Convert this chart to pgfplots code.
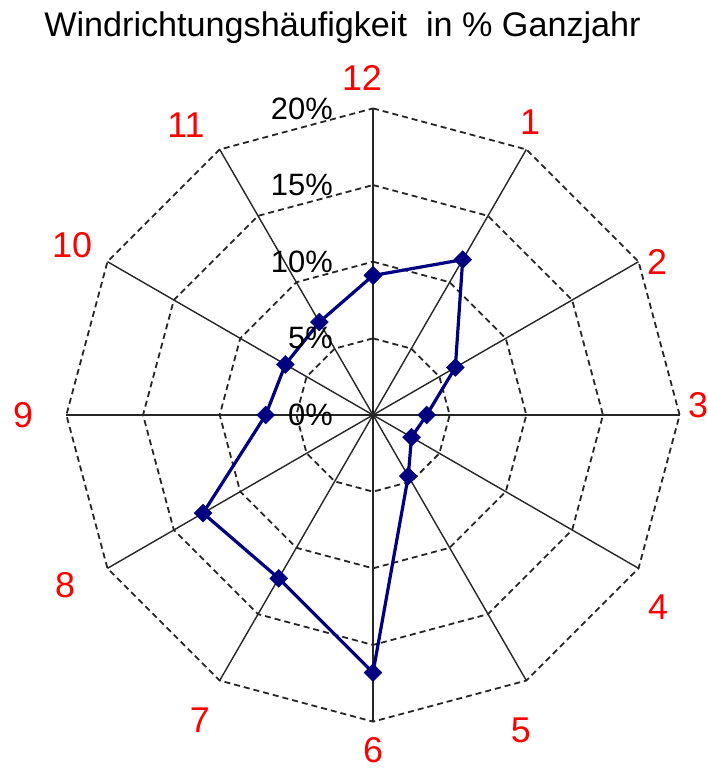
\documentclass[border=0pt]{standalone}
\usepackage{pgfplots}
\pgfplotsset{compat=1.18}
\usepackage{fontspec}
\setmainfont{Liberation Sans}
\definecolor{navyline}{RGB}{0,0,128}
\definecolor{redlab}{RGB}{255,0,0}
\begin{document}
\begin{tikzpicture}
\begin{axis}[
  x=15.33bp, y=15.33bp,
  xmin=-24.33, xmax=21.85, ymin=-23.22, ymax=27.07,
  hide axis, clip=false,
  ringstyle/.style={black!85, line width=1.8bp, dash pattern=on 6bp off 4bp, mark=none},
  spokestyle/.style={black!85, line width=1.4bp, mark=none},
]
% spokes (diameters)
\addplot[spokestyle, data cs=polar] coordinates {(90,20) (270,20)};
\addplot[spokestyle, data cs=polar] coordinates {(60,20) (240,20)};
\addplot[spokestyle, data cs=polar] coordinates {(30,20) (210,20)};
\addplot[spokestyle, data cs=polar] coordinates {(0,20) (180,20)};
\addplot[spokestyle, data cs=polar] coordinates {(-30,20) (150,20)};
\addplot[spokestyle, data cs=polar] coordinates {(-60,20) (120,20)};
% rings
\addplot[ringstyle, data cs=polar] coordinates {(90,5) (60,5) (30,5) (0,5) (-30,5) (-60,5) (-90,5) (-120,5) (-150,5) (180,5) (150,5) (120,5) (90,5)};
\addplot[ringstyle, data cs=polar] coordinates {(90,10) (60,10) (30,10) (0,10) (-30,10) (-60,10) (-90,10) (-120,10) (-150,10) (180,10) (150,10) (120,10) (90,10)};
\addplot[ringstyle, data cs=polar] coordinates {(90,15) (60,15) (30,15) (0,15) (-30,15) (-60,15) (-90,15) (-120,15) (-150,15) (180,15) (150,15) (120,15) (90,15)};
\addplot[ringstyle, data cs=polar] coordinates {(90,20) (60,20) (30,20) (0,20) (-30,20) (-60,20) (-90,20) (-120,20) (-150,20) (180,20) (150,20) (120,20) (90,20)};
% data
\addplot[navyline, line width=3.2bp, data cs=polar, mark=square*, mark size=6.3bp,
  mark options={rotate=45, solid, fill=navyline, draw=navyline, line width=0.5bp}]
  coordinates {(90,9.1) (60,11.7) (30,6.2) (0,3.5) (-30,2.9) (-60,4.6) (-90,16.8) (-120,12.3) (-150,12.8) (180,7.0) (150,6.6) (120,7.0) (90,9.1)};
% radial tick labels
\begin{scope}[every node/.style={anchor=east, inner sep=0pt, font=\fontsize{31}{35}\selectfont}]
\node at (axis cs:-2.61,0) {0\%};
\node at (axis cs:-2.61,5) {5\%};
\node at (axis cs:-2.61,10) {10\%};
\node at (axis cs:-2.61,15) {15\%};
\node at (axis cs:-2.61,20) {20\%};
\end{scope}
% direction labels
\begin{scope}[every node/.style={text=redlab, inner sep=0pt, font=\fontsize{36}{40}\selectfont}]
\node at (axis cs:-0.72,21.98) {12};
\node at (axis cs:10.24,19.11) {1};
\node at (axis cs:18.53,9.98) {2};
\node at (axis cs:21.2,0.65) {3};
\node at (axis cs:18.59,-12.52) {4};
\node at (axis cs:9.65,-20.55) {5};
\node at (axis cs:0,-21.85) {6};
\node at (axis cs:-11.29,-19.90) {7};
\node at (axis cs:-20.09,-11.09) {8};
\node at (axis cs:-22.83,0) {9};
\node at (axis cs:-19.63,11.09) {10};
\node at (axis cs:-12.20,18.92) {11};
\end{scope}
% title
\node[anchor=base, inner sep=0pt, font=\fontsize{34.3}{40}\selectfont] at (axis cs:-1.99,24.66) {Windrichtungshäufigkeit\ \ in \% Ganzjahr};
\end{axis}
\pgfresetboundingbox
\useasboundingbox (current axis.south west) rectangle (current axis.north east);
\end{tikzpicture}
\end{document}
